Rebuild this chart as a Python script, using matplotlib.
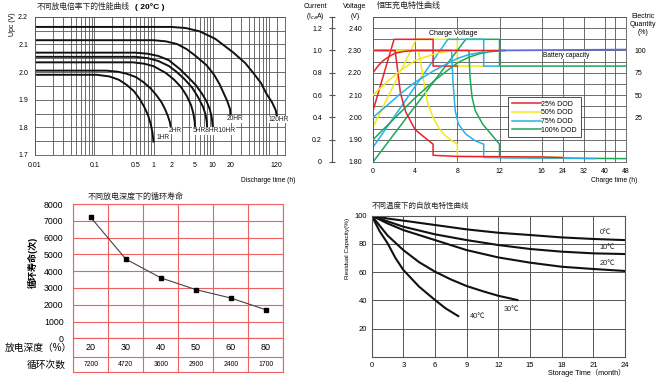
import numpy as np
import matplotlib
matplotlib.use('Agg')
import matplotlib.pyplot as plt
from matplotlib.lines import Line2D
from matplotlib.ticker import LogLocator, NullFormatter

plt.rcParams['font.family'] = ['Liberation Sans', 'Noto Sans CJK SC']
plt.rcParams['axes.unicode_minus'] = False

# ---------------- 不同放电倍率下的性能曲线 (20°C) ----------------
t_1hr = [0.01, 0.11, 0.18, 0.26, 0.35, 0.47, 0.59, 0.70, 0.81, 0.90, 0.96, 1.0]
v_1hr = [1.99, 1.99, 1.984, 1.972, 1.954, 1.930, 1.901, 1.873, 1.843, 1.810, 1.780, 1.745]
t_2hr = [0.01, 0.16, 0.25, 0.35, 0.5, 0.67, 0.88, 1.1, 1.35, 1.56, 1.75, 1.89, 2.0]
v_2hr = [2.005, 2.005, 2.001, 1.994, 1.982, 1.964, 1.942, 1.918, 1.892, 1.866, 1.840, 1.818, 1.785]
t_5hr = [0.01, 0.45, 0.7, 1.0, 1.6, 2.2, 2.9, 3.6, 4.3, 4.7, 4.95, 5.0]
v_5hr = [2.035, 2.035, 2.03, 2.021, 1.997, 1.973, 1.946, 1.915, 1.88, 1.85, 1.82, 1.80]
t_8hr = [0.01, 0.5, 0.8, 1.2, 1.8, 2.4, 3.3, 4.5, 5.6, 6.8, 7.5, 7.9, 8.0]
v_8hr = [2.055, 2.055, 2.05, 2.04, 2.022, 2.002, 1.975, 1.943, 1.91, 1.875, 1.848, 1.82, 1.80]
t_10hr = [0.01, 0.5, 0.8, 1.2, 1.8, 2.8, 3.8, 5.2, 6.5, 7.8, 8.9, 9.6, 10.0]
v_10hr = [2.07, 2.07, 2.066, 2.058, 2.043, 2.01, 1.982, 1.952, 1.923, 1.895, 1.865, 1.835, 1.80]
t_20hr = [0.01, 1.0, 1.6, 2.5, 3.6, 5.2, 7.8, 10.5, 13, 15.5, 17.5, 19.5, 20]
v_20hr = [2.115, 2.115, 2.111, 2.101, 2.083, 2.057, 2.025, 1.99, 1.956, 1.92, 1.895, 1.866, 1.835]
t_120hr = [0.01, 2, 3.5, 6, 11, 22, 35, 48, 65, 80, 100, 115, 120]
v_120hr = [2.163, 2.163, 2.159, 2.147, 2.12, 2.071, 2.033, 1.997, 1.96, 1.922, 1.89, 1.862, 1.84]
rate_ticks = [0.01, 0.1, 0.5, 1, 2, 5, 10, 20, 120]
rate_tick_labels = ['0.01', '0.1', '0.5', '1', '2', '5', '10', '20', '120']

# ---------------- 恒压充电特性曲线 ----------------
# voltage (V), current (I_ca A), electric quantity (%) against charge time (h)
red_v_t = [0, 2.0, 5.7, 5.7, 8.0]
red_v = [2.03, 2.35, 2.35, 2.23, 2.23]
red_i_t = [0, 2.1, 2.3, 2.6, 3.1, 3.6, 4.0, 4.9, 5.7, 5.7, 8, 16, 24]
red_i = [1.0, 1.0, 0.85, 0.62, 0.45, 0.36, 0.29, 0.22, 0.16, 0.06, 0.05, 0.045, 0.04]
red_q_t = [0, 0.5, 1, 1.5, 2.1, 3, 4, 6, 12.5]
red_q = [75, 83, 89, 93, 97, 99, 100, 100, 100]

yel_v_t = [0, 4.1, 8.0, 8.0, 10.5]
yel_v = [1.956, 2.35, 2.35, 2.23, 2.23]
yel_i_t = [0, 4.3, 4.6, 4.9, 5.2, 5.7, 6.2, 6.8, 7.5, 8.0, 8.0, 16, 24]
yel_i = [1.0, 1.0, 0.85, 0.67, 0.52, 0.40, 0.31, 0.24, 0.19, 0.16, 0.05, 0.045, 0.04]
yel_q_t = [0, 1.3, 2.6, 4.0, 5.8, 7.1, 8.0]
yel_q = [50, 64.5, 77.5, 88.8, 96, 99, 100]

blu_v_t = [0, 7.1, 10.5, 10.5, 12.0]
blu_v = [1.866, 2.35, 2.35, 2.23, 2.23]
blu_i_t = [0, 7.45, 7.6, 7.8, 8.1, 8.8, 9.7, 10.5, 10.5, 24, 36]
blu_i = [1.0, 1.0, 0.70, 0.46, 0.34, 0.25, 0.19, 0.16, 0.04, 0.035, 0.03]
blu_q_t = [0, 1.3, 2.6, 4.0, 5.8, 7.0, 8.0, 9.0, 10.5]
blu_q = [25, 38, 51.5, 64.5, 77.5, 85, 91, 95, 98.5]

grn_v_t = [0, 8.8, 12.0, 12.0, 48]
grn_v = [1.80, 2.35, 2.35, 2.23, 2.23]
grn_i_t = [0, 9.1, 9.2, 9.4, 9.7, 10.4, 11.2, 12.0, 12.0, 24, 48]
grn_i = [1.0, 1.0, 0.76, 0.58, 0.46, 0.34, 0.25, 0.16, 0.04, 0.035, 0.03]
grn_q_t = [0, 2, 4, 6, 8, 9, 10, 11, 12.5]
grn_q = [0, 23.5, 47, 68, 86, 92, 96, 98.5, 100]

cap_t = [12, 24, 48]
cap_q = [100, 100.5, 101]
dod_names = ['25% DOD', '50% DOD', '75% DOD', '100% DOD']
charge_ticks = [0, 4, 8, 12, 16, 24, 32, 40, 48]

# ---------------- 不同放电深度下的循环寿命 ----------------
dod = [20, 30, 40, 50, 60, 80]
cycles = [7200, 4720, 3600, 2900, 2400, 1700]

# ---------------- 不同温度下的自放电特性曲线 ----------------
store_t = [0, 1.5, 3, 6, 9, 12, 15, 18, 21, 24]
cap_0c = [100, 98, 96.5, 93.4, 90.3, 87.9, 86.3, 84.6, 83.5, 82.7]
cap_10c = [100, 96, 92.2, 86.8, 82.7, 79.2, 76.4, 74.5, 73.3, 72.8]
cap_20c = [100, 94.5, 89.8, 82.7, 75.6, 70.4, 66.7, 63.8, 62.2, 60.8]
store_t_30 = [0, 1.5, 3, 4.5, 6, 7.5, 9, 10.5, 12, 13.8]
cap_30c = [100, 86, 75.6, 67, 60.3, 54.8, 50.1, 46.5, 43.2, 40.2]
store_t_40 = [0, 0.75, 1.5, 2.25, 3, 4.5, 6, 7, 8.2]
cap_40c = [100, 89, 80.5, 70, 61.5, 49.6, 40.2, 34.3, 28.8]

W, H = 660, 378
fig = plt.figure(figsize=(W / 100, H / 100), dpi=100)


def box(x0, y0, x1, y1):
    # pixel box, origin top-left -> figure fraction
    return [x0 / W, 1 - y1 / H, (x1 - x0) / W, (y1 - y0) / H]


def ftext(x, y, s, **kw):
    return fig.text(x / W, 1 - y / H, s, **kw)


GRID = '#555555'

# ===== panel 1 =====
ax1 = fig.add_axes(box(35, 16.7, 285, 155))
ax1.set_xscale('log')
ax1.set_xlim(0.01, 165)
ax1.set_ylim(1.7, 2.2)
ax1.set_xticks(rate_ticks)
ax1.set_xticklabels(rate_tick_labels)
ax1.xaxis.set_minor_locator(LogLocator(base=10, subs=np.arange(2, 10)))
ax1.xaxis.set_minor_formatter(NullFormatter())
ax1.set_yticks([1.7, 1.8, 1.9, 2.0, 2.1, 2.2])
ax1.set_yticklabels(['1.7', '1.8', '1.9', '2.0', '2.1', '2.2'])
ax1.set_yticks([1.75, 1.85, 1.95, 2.05, 2.15], minor=True)
ax1.grid(which='both', color=GRID, lw=0.6)
ax1.tick_params(which='both', length=0, labelsize=5)
ax1.tick_params(axis='y', pad=5)
ax1.tick_params(axis='x', pad=5)
for s in ax1.spines.values():
    s.set_color(GRID)
    s.set_linewidth(0.6)
for tt, vv in [(t_1hr, v_1hr), (t_2hr, v_2hr), (t_5hr, v_5hr), (t_8hr, v_8hr),
               (t_10hr, v_10hr), (t_20hr, v_20hr), (t_120hr, v_120hr)]:
    ax1.plot(tt, vv, color='#111111', lw=1.4, solid_capstyle='butt')
lab_kw = dict(fontsize=4.8, va='center', ha='left', color='#222',
              bbox=dict(facecolor='white', edgecolor='none', pad=0.2))
ax1.text(1.13, 1.763, '1HR', **lab_kw)
ax1.text(1.77, 1.789, '2HR', **lab_kw)
ax1.text(4.56, 1.787, '5HR8HR10HR', **lab_kw)
ax1.text(17.1, 1.831, '20HR', **lab_kw)
ax1.text(86, 1.828, '120HR', **lab_kw)
ftext(37, 7, '不同放电倍率下的性能曲线', fontsize=5.6, va='center', color='#222')
ftext(135, 7, '( 20°C )', fontsize=6, fontweight='bold', va='center')
ftext(13, 24, 'Upc (V)', fontsize=5, rotation=90, ha='center', va='center')
ftext(295, 180, 'Discharge time (h)', fontsize=4.8, ha='right', va='center')

# ===== panel 2 =====
def fwd(t):
    t = np.asarray(t, dtype=float)
    return np.where(t <= 16, t, 16 + (t - 16) / 4)


def inv(u):
    u = np.asarray(u, dtype=float)
    return np.where(u <= 16, u, 16 + (u - 16) * 4)


ax2 = fig.add_axes(box(373, 17, 626, 162))
axc = ax2.twinx()
axq = ax2.twinx()
ax2.set_xscale('function', functions=(fwd, inv))
ax2.set_xlim(0, 48)
ax2.set_ylim(1.80, 2.45)
ax2.set_xticks(charge_ticks)
ax2.set_xticklabels([str(v) for v in charge_ticks])
ax2.set_xticks([44], minor=True)
ax2.set_yticks(np.arange(1.8, 2.41, 0.1))
ax2.set_yticklabels(['%.2f' % v for v in np.arange(1.8, 2.41, 0.1)])
ax2.set_yticks(np.arange(1.85, 2.45, 0.1), minor=True)
ax2.grid(which='both', color=GRID, lw=0.6)
ax2.tick_params(which='both', length=0, labelsize=5)
ax2.tick_params(axis='y', pad=8)
ax2.tick_params(axis='x', pad=4)
for s in ax2.spines.values():
    s.set_color(GRID)
    s.set_linewidth(0.6)

# current axis on the far left
axc.set_ylim(0, 1.3)
axc.yaxis.set_ticks_position('left')
axc.spines['left'].set_position(('outward', 29.5))
for k in ['right', 'top', 'bottom']:
    axc.spines[k].set_visible(False)
axc.spines['left'].set_color(GRID)
axc.spines['left'].set_linewidth(0.8)
axc.set_yticks([0, 0.2, 0.4, 0.6, 0.8, 1.0, 1.2, 1.3])
axc.set_yticklabels(['0', '0.2', '0.4', '0.6', '0.8', '1.0', '1.2', ''])
axc.tick_params(axis='y', direction='inout', length=4.8, width=0.8, color=GRID,
                labelsize=5, pad=4.8)

# electric quantity axis on the right
axq.set_ylim(-25, 137.5)
axq.set_yticks([25, 50, 75, 100])
axq.tick_params(axis='y', length=0, labelsize=5, pad=6)
for s in axq.spines.values():
    s.set_visible(False)

RED, YEL, BLU, GRN = '#e8222b', '#f4e71c', '#27b2e6', '#1ea657'
LW = 1.1
for tt, vv, c in [(yel_v_t, yel_v, YEL), (grn_v_t, grn_v, GRN),
                  (blu_v_t, blu_v, BLU), (red_v_t, red_v, RED)]:
    ax2.plot(tt, vv, color=c, lw=LW)
for tt, ii, c in [(grn_i_t, grn_i, GRN), (blu_i_t, blu_i, BLU),
                  (yel_i_t, yel_i, YEL), (red_i_t, red_i, RED)]:
    axc.plot(tt, ii, color=c, lw=LW)
for tt, qq, c in [(grn_q_t, grn_q, GRN), (blu_q_t, blu_q, BLU),
                  (yel_q_t, yel_q, YEL), (red_q_t, red_q, RED)]:
    axq.plot(tt, qq, color=c, lw=LW)
axq.plot(cap_t, cap_q, color='#5f6ad4', lw=LW + 0.2)

tb = dict(facecolor='white', edgecolor='none', pad=0.3)
ax2.text(5.28, 2.376, 'Charge Voltage', fontsize=5, va='center', ha='left', bbox=tb)
ax2.text(16.5, 2.278, 'Battery capacity', fontsize=4.7, va='center', ha='left', bbox=tb)

handles = [Line2D([], [], color=c, lw=LW) for c in (RED, YEL, BLU, GRN)]
leg = axq.legend(handles, dod_names, loc='upper left', bbox_to_anchor=(0.534, 0.448),
                 fontsize=5, handlelength=4.2, handletextpad=0.1, labelspacing=0.25,
                 borderpad=0.5, borderaxespad=0, fancybox=False, framealpha=1)
leg.get_frame().set_edgecolor('#333')
leg.get_frame().set_linewidth(0.6)

ftext(377, 6, '恒压充电特性曲线', fontsize=5.8, va='center', color='#222')
ftext(315, 7, 'Current', fontsize=5, ha='center', va='center')
ftext(315, 16, '(I$_{ca}$A)', fontsize=5, ha='center', va='center')
ftext(355, 7, 'Voltage', fontsize=5, ha='center', va='center')
ftext(355, 16, '(V)', fontsize=5, ha='center', va='center')
ftext(643, 13, 'Electric\nQuantity\n(%)', fontsize=5, ha='center', va='top',
      linespacing=1.15)
ftext(637, 180, 'Charge time (h)', fontsize=4.8, ha='right', va='center')

# ===== panel 3 =====
PINK = '#f06060'
ax3 = fig.add_axes(box(73.3, 204, 283.3, 338.3))
xc = np.arange(len(dod)) + 0.5
ax3.plot(xc, cycles, color='#444444', lw=0.8)
ax3.plot(xc, cycles, 's', color='black', ms=2.2)
ax3.set_xlim(0, len(dod))
ax3.set_ylim(0, 8000)
ax3.set_xticks(range(len(dod) + 1))
ax3.set_yticks(range(0, 8001, 1000))
ax3.tick_params(length=0, labelbottom=False, labelsize=6.3, pad=7)
ax3.grid(color=PINK, lw=0.8)
for s in ax3.spines.values():
    s.set_color(PINK)
    s.set_linewidth(0.8)

axt = fig.add_axes(box(73.3, 338.3, 283.3, 371.7))
axt.set_xlim(0, len(dod))
axt.set_ylim(0, 1)
axt.set_xticks(range(len(dod) + 1))
axt.set_yticks([0.45])
axt.tick_params(length=0, labelbottom=False, labelleft=False)
axt.grid(color=PINK, lw=0.8)
for s in axt.spines.values():
    s.set_color(PINK)
    s.set_linewidth(0.8)
for x, d, n in zip(xc, dod, cycles):
    axt.text(x, 0.72, str(d), fontsize=6.5, ha='center', va='center')
    axt.text(x, 0.22, str(n), fontsize=4.9, ha='center', va='center')

ftext(88, 197, '不同放电深度下的循环寿命', fontsize=5.8, va='center', color='#222')
ftext(33, 262, '循环寿命(次)', fontsize=6.5, rotation=90, ha='center', va='center',
      fontweight='bold')
ftext(5, 348, '放电深度（%）', fontsize=7, va='center')
ftext(27, 365, '循环次数', fontsize=7, va='center')

# ===== panel 4 =====
ax4 = fig.add_axes(box(371.7, 215.7, 625, 356.7))
ax4.set_xlim(0, 24)
ax4.set_ylim(0, 100)
ax4.set_xticks(range(0, 25, 3))
ax4.set_yticks([20, 40, 60, 80, 100])
ax4.grid(color=GRID, lw=0.7)
ax4.tick_params(length=0, labelsize=5.5, pad=3.5)
for s in ax4.spines.values():
    s.set_color(GRID)
    s.set_linewidth(0.8)
for tt, cc in [(store_t, cap_0c), (store_t, cap_10c), (store_t, cap_20c),
               (store_t_30, cap_30c), (store_t_40, cap_40c)]:
    ax4.plot(tt, cc, color='#111111', lw=1.5)
tk = dict(fontsize=5.3, va='center', ha='left', color='#222')
ax4.text(21.6, 88.2, '0℃', **tk)
ax4.text(21.6, 77.3, '10℃', **tk)
ax4.text(21.6, 66.2, '20℃', **tk)
ax4.text(12.5, 33.5, '30℃', **tk)
ax4.text(9.3, 28.8, '40℃', **tk)

ftext(372, 206, '不同温度下的自放电特性曲线', fontsize=5.4, va='center', color='#222')
ftext(347, 248, 'Residual Capacity(%)', fontsize=4.6, rotation=90, ha='center',
      va='center')
ftext(625, 373, 'Storage Time（month）', fontsize=5.2, ha='right', va='center')

fig.savefig('out.png', dpi=100)
